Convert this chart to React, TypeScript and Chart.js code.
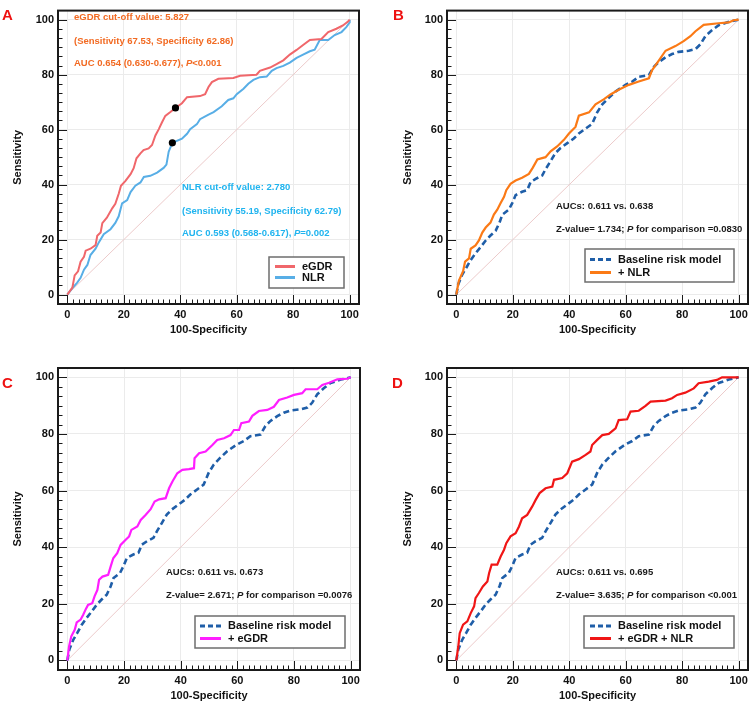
import React, { useEffect, useRef } from "react";
import { Chart, registerables } from "chart.js";
Chart.register(...registerables);

const FONT = '"Liberation Sans", Arial, Helvetica, sans-serif';

// ---- axis ticks ----
const X_TICKS = [0, 20, 40, 60, 80, 100];
const Y_TICKS = [0, 20, 40, 60, 80, 100];

// ---- Panel A: eGDR alone ----
const egdrFpr = [0,1.8,2.6,3.8,4.7,5.9,6.5,8.2,10,10.6,11.8,12.4,14,15.9,17,18.2,19,20.6,22.4,23.5,24.5,25.9,27,28.8,30,31.2,32.4,33.5,34.7,36.5,38.3,40.6,42.4,47,48.8,50,51.2,53.5,58.8,61.2,67,68.2,71.8,74.1,76.5,78.8,81.2,83.5,85.9,90,92.4,95.3,97.6,99.4,100];
const egdrSens = [0,2.6,7,8.5,12,13.8,16,16.7,18,21.4,22.6,26,28,31.4,33,36.7,39.6,41.4,43.8,46,49.6,51.4,52.6,53.2,54.4,57.9,60.2,62.6,65,66.4,67.9,69.6,71.8,72.2,72.9,75.5,77.3,78.5,78.8,79.6,80,81.4,82.6,83.8,85.2,87.3,89,90.8,92.6,93,95.5,96.7,97.9,99.3,100];

// ---- Panel A: NLR alone ----
const nlrFpr = [0,1.8,3.5,4.7,5.9,7.1,8.2,10,11.2,12.9,15.3,17,18.2,19.4,21.2,22.4,24.1,25.9,27.1,29.4,31.8,34.1,35.1,35.9,37.2,40.6,42.4,43.5,45.9,47,50,51.8,54.7,57,58.8,60,62.4,64.1,65.9,68.2,70.6,72.4,74.1,76.5,78.8,81.2,83.5,85.9,87.6,89.4,92.4,94.7,97.1,98.8,100,100];
const nlrSens = [0,2.4,4.4,6.1,9.1,10.8,14.4,16.7,19.1,22,23.8,26.1,28.5,33.2,34.4,37.3,39.6,40.8,42.8,43.2,44.4,46.1,47.3,52,55.2,56.7,58.5,60.2,62,63.8,65.5,66.4,68.5,70.8,71.4,72.9,74.9,76.7,78.1,79.1,79.3,81.4,82.4,83.2,84.4,86.1,87.3,88.5,89.1,92.6,92.6,94.4,95.5,97.3,99,100];

// ---- cut-off points (100-Specificity, Sensitivity) ----
const egdrCutFpr = [38.3];
const egdrCutSens = [67.9];
const nlrCutFpr = [37.2];
const nlrCutSens = [55.2];

// ---- Baseline risk model (panels B, C, D) ----
const baseFpr = [0,0.7,2.1,3.5,5.1,6.8,8.6,10.4,12.1,13.9,15.3,16.3,18.6,19.8,21,23.3,25.1,26.3,28.1,30.4,31.6,33.4,35.1,36.9,39.3,41.6,43.4,45.8,48.1,49.9,51.7,54,56.4,59.9,62.3,64.6,68.2,69.9,71.7,74.1,76.4,78.8,82.3,84.7,86.4,88.2,90.6,92.9,96.5,100];
const baseSens = [0,3.8,7.3,9.7,12.6,15,17.3,19.7,21.5,23.2,26.2,29.1,30.9,33.3,36.2,37.4,38,40.9,42.1,43.3,45.6,48.6,51.5,53.3,55.1,56.8,58.6,60.4,62.1,66.3,69.2,71.6,73.9,76.3,77.5,79.2,79.8,82.8,84.6,86.3,87.5,88.3,88.7,89.3,91,94,96.2,98,99.2,100];

// ---- + NLR (panel B) ----
const plusNlrFpr = [0,0.9,2.4,3.1,4.5,5.1,6.8,8,9.2,10.4,12.1,13.3,14.5,15.7,16.9,17.7,19.2,21,23.3,25.7,27.1,28.7,31.6,33.4,35.7,38.1,39.9,42.2,43.4,47,49.3,52.2,54.6,57.5,61.1,64.6,68.2,69.3,71.7,74.1,77.6,80.5,82.9,84.7,87.6,92.9,96.5,98.2,100];
const plusNlrSens = [0,5,8.5,12,13.2,16.7,17.9,19.7,22.6,24.4,26.2,29.1,30.9,33.3,35.6,38,40.3,41.5,42.5,43.9,46.2,49.2,50,52.1,53.9,56.3,58.6,61,65.1,66.3,69.2,71,72.8,74.5,76.3,77.5,78.7,81.6,85.1,88.7,90.4,92.2,94,95.8,98.1,98.7,99,99.8,100];

// ---- + eGDR (panel C) ----
const plusEgdrFpr = [0,0.6,1.4,2.6,3.3,4.7,5.6,6.5,7.3,8.8,9.6,10.6,11.2,12.4,14.4,15.3,16.2,17.6,18.8,20.6,21.8,22.6,24.7,25.9,27.6,29.4,30.8,32.4,34.7,35.9,37.1,38.8,40.6,42.9,44.7,44.9,46.5,48.8,51.2,52.9,55.3,57.6,58.8,60.6,61.4,64.1,65.3,67.6,70.6,72.9,74.7,77.6,80,82.9,84.1,88.2,90,92.4,95.3,98.8,100];
const plusEgdrSens = [0,4.9,8.5,10.8,13.4,14.4,16.1,18.1,19.6,20.2,22.6,24.9,28.5,29.6,30.2,33.2,36.1,37.9,40.8,42.6,43.8,46.1,47.3,49.6,51.4,53.4,56.1,56.9,57.3,60.8,63.2,66.1,67.3,67.6,67.9,71.4,73.2,73.8,76.1,77.9,78.5,79.6,81.4,81.4,83.8,84.4,86.4,88.1,88.5,89.6,92,92.9,93.8,94.4,95.8,95.8,97.3,98.1,99.3,99.5,100];

// ---- + eGDR + NLR (panel D) ----
const plusBothFpr = [0,0.7,1.2,2.4,3.9,5.1,6.3,6.8,8,9.4,11,11.6,12.5,14.5,15.7,16.9,17.7,19.2,21,22.2,23.3,25.1,26.9,28.1,29.5,31.6,34,34.6,37.5,39.3,41,43.4,45.8,47.5,48.1,49.9,51.7,54,56.4,57.5,60.5,61.7,64.6,67,68.8,74.1,76.4,78.2,81.1,84.1,85.8,89.4,92.3,94.1,100];
const plusBothSens = [0,4.9,9.6,12.6,13.8,16.7,19.1,22,23.8,26.1,27.9,30.8,33.8,33.8,36.7,39.1,41.4,43.8,44.9,47.3,50.2,51.4,54.4,56.7,59.1,60.8,61.4,63.8,64.4,66.1,70.2,71.1,72.6,73.8,76.1,77.9,79.6,80,82,84.9,85.2,87.9,88.2,89.9,91.4,91.8,92.6,93.8,94.6,96.1,97.9,98.5,99.1,100,100];

// ---- reference diagonal ----
const diagFpr = [0, 100];
const diagSens = [0, 100];

const pts = (xs: number[], ys: number[]) => xs.map((x, i) => ({ x, y: ys[i] }));

type Seg = { t: string; i?: boolean };
type Note = { x: number; y: number; color: string; segs: Seg[] };
type Series = { label: string; fpr: number[]; sens: number[]; color: string; width: number; dash?: number[] };
type Legend = { x: number; y: number; w: number; h: number; s0: number; s1: number; tx: number; rows: number[]; items: Series[] };
type PanelCfg = {
  key: string; left: number; top: number; w: number; h: number;
  area: { l: number; r: number; t: number; b: number };
  letter: string; letterX: number; letterY: number;
  yTitleX: number; xTitleY: number;
  series: Series[]; // drawing order: first = on top
  dots?: { fpr: number[]; sens: number[] }[];
  notes: Note[]; legend: Legend;
};

const C_EGDR = "#f0676b";
const C_NLR = "#58aee6";
const C_BASE = "#1f5ea8";
const C_PNLR = "#fb7a16";
const C_PEGDR = "#ff1eff";
const C_PBOTH = "#f01616";
const T_ORANGE = "#f26a22";
const T_BLUE = "#20b4ef";
const T_BLACK = "#1a1a1a";

const sBase: Series = { label: "Baseline risk model", fpr: baseFpr, sens: baseSens, color: C_BASE, width: 2.6, dash: [6, 3.5] };
const sEgdr: Series = { label: "eGDR", fpr: egdrFpr, sens: egdrSens, color: C_EGDR, width: 2 };
const sNlr: Series = { label: "NLR", fpr: nlrFpr, sens: nlrSens, color: C_NLR, width: 2 };
const sPNlr: Series = { label: "+ NLR", fpr: plusNlrFpr, sens: plusNlrSens, color: C_PNLR, width: 2.2 };
const sPEgdr: Series = { label: "+ eGDR", fpr: plusEgdrFpr, sens: plusEgdrSens, color: C_PEGDR, width: 2.2 };
const sPBoth: Series = { label: "+ eGDR + NLR", fpr: plusBothFpr, sens: plusBothSens, color: C_PBOTH, width: 2.2 };

const PANELS: PanelCfg[] = [
  {
    key: "A", left: 0, top: 0, w: 376, h: 340,
    area: { l: 58, r: 359, t: 2, b: 304 },
    letter: "A", letterX: 2, letterY: 19.5, yTitleX: 18, xTitleY: 330,
    series: [sEgdr, sNlr],
    dots: [{ fpr: egdrCutFpr, sens: egdrCutSens }, { fpr: nlrCutFpr, sens: nlrCutSens }],
    notes: [
      { x: 74, y: 17, color: T_ORANGE, segs: [{ t: "eGDR cut-off value: 5.827" }] },
      { x: 74, y: 41.5, color: T_ORANGE, segs: [{ t: "(Sensitivity 67.53, Specificity 62.86)" }] },
      { x: 74, y: 63.5, color: T_ORANGE, segs: [{ t: "AUC 0.654 (0.630-0.677), " }, { t: "P", i: true }, { t: "<0.001" }] },
      { x: 182, y: 187, color: T_BLUE, segs: [{ t: "NLR cut-off value: 2.780" }] },
      { x: 182, y: 211, color: T_BLUE, segs: [{ t: "(Sensitivity 55.19, Specificity 62.79)" }] },
      { x: 182, y: 233, color: T_BLUE, segs: [{ t: "AUC 0.593 (0.568-0.617), " }, { t: "P", i: true }, { t: "=0.002" }] },
    ],
    legend: { x: 269, y: 257, w: 75, h: 31, s0: 275, s1: 295, tx: 302, rows: [266.5, 277.5], items: [sEgdr, sNlr] },
  },
  {
    key: "B", left: 376, top: 0, w: 376, h: 340,
    area: { l: 71, r: 372, t: 2, b: 304 },
    letter: "B", letterX: 17, letterY: 19.5, yTitleX: 32, xTitleY: 330,
    series: [sPNlr, sBase],
    notes: [
      { x: 180, y: 206, color: T_BLACK, segs: [{ t: "AUCs: 0.611 vs. 0.638" }] },
      { x: 180, y: 229, color: T_BLACK, segs: [{ t: "Z-value= 1.734; " }, { t: "P", i: true }, { t: " for comparison =0.0830" }] },
    ],
    legend: { x: 209, y: 249, w: 149, h: 33, s0: 214, s1: 235, tx: 242, rows: [259.5, 272.5], items: [sBase, sPNlr] },
  },
  {
    key: "C", left: 0, top: 340, w: 376, h: 363,
    area: { l: 58, r: 360, t: 28, b: 330 },
    letter: "C", letterX: 2, letterY: 47.5, yTitleX: 18, xTitleY: 356,
    series: [sPEgdr, sBase],
    notes: [
      { x: 166, y: 232, color: T_BLACK, segs: [{ t: "AUCs: 0.611 vs. 0.673" }] },
      { x: 166, y: 255.5, color: T_BLACK, segs: [{ t: "Z-value= 2.671; " }, { t: "P", i: true }, { t: " for comparison =0.0076" }] },
    ],
    legend: { x: 195, y: 276, w: 150, h: 32, s0: 200, s1: 221, tx: 228, rows: [286, 298.5], items: [sBase, sPEgdr] },
  },
  {
    key: "D", left: 376, top: 340, w: 376, h: 363,
    area: { l: 71, r: 372, t: 28, b: 330 },
    letter: "D", letterX: 16, letterY: 47.5, yTitleX: 32, xTitleY: 356,
    series: [sPBoth, sBase],
    notes: [
      { x: 180, y: 232, color: T_BLACK, segs: [{ t: "AUCs: 0.611 vs. 0.695" }] },
      { x: 180, y: 255.5, color: T_BLACK, segs: [{ t: "Z-value= 3.635; " }, { t: "P", i: true }, { t: " for comparison <0.001" }] },
    ],
    legend: { x: 208, y: 276, w: 150, h: 32, s0: 214, s1: 235, tx: 242, rows: [286, 298.5], items: [sBase, sPBoth] },
  },
];

function drawRich(ctx: CanvasRenderingContext2D, x: number, y: number, segs: Seg[], color: string, size: number) {
  ctx.fillStyle = color;
  ctx.textBaseline = "middle";
  ctx.textAlign = "left";
  let cx = x;
  for (const s of segs) {
    ctx.font = `${s.i ? "italic " : ""}bold ${size}px ${FONT}`;
    ctx.fillText(s.t, cx, y);
    cx += ctx.measureText(s.t).width;
  }
}

function makeDeco(cfg: PanelCfg) {
  return {
    id: "deco" + cfg.key,
    beforeDatasetsDraw(chart: any) {
      const { ctx, chartArea: a, scales } = chart;
      const x = scales.x, y = scales.y;
      ctx.save();
      ctx.strokeStyle = "#1a1a1a";
      ctx.lineWidth = 1;
      ctx.beginPath();
      // x ticks (inward, from bottom)
      for (let i = 0; i <= 50; i++) {
        const v = i * 2;
        const px = Math.round(x.getPixelForValue(v)) + 0.5;
        const len = v % 20 === 0 ? 9 : 4.5;
        ctx.moveTo(px, a.bottom);
        ctx.lineTo(px, a.bottom - len);
      }
      // y ticks (inward, from left)
      for (let i = 0; i <= 30; i++) {
        const v = (i * 10) / 3;
        const py = Math.round(y.getPixelForValue(v)) + 0.5;
        const len = i % 6 === 0 ? 9 : 4.5;
        ctx.moveTo(a.left, py);
        ctx.lineTo(a.left + len, py);
      }
      ctx.stroke();
      ctx.restore();
    },
    afterDraw(chart: any) {
      const { ctx, chartArea: a } = chart;
      ctx.save();
      // frame
      ctx.strokeStyle = "#1a1a1a";
      ctx.lineWidth = 2;
      ctx.strokeRect(a.left, a.top, a.right - a.left, a.bottom - a.top);
      // axis titles
      ctx.fillStyle = "#111";
      ctx.font = `bold 11px ${FONT}`;
      ctx.textAlign = "center";
      ctx.textBaseline = "middle";
      ctx.fillText("100-Specificity", (a.left + a.right) / 2, cfg.xTitleY);
      ctx.save();
      ctx.translate(cfg.yTitleX, (a.top + a.bottom) / 2);
      ctx.rotate(-Math.PI / 2);
      ctx.fillText("Sensitivity", 0, 0);
      ctx.restore();
      // panel letter
      ctx.fillStyle = "#ee1111";
      ctx.font = `bold 15px ${FONT}`;
      ctx.textAlign = "left";
      ctx.textBaseline = "alphabetic";
      ctx.fillText(cfg.letter, cfg.letterX, cfg.letterY);
      // notes
      for (const n of cfg.notes) drawRich(ctx, n.x, n.y, n.segs, n.color, 9.5);
      // legend
      const L = cfg.legend;
      ctx.fillStyle = "#fff";
      ctx.fillRect(L.x, L.y, L.w, L.h);
      ctx.strokeStyle = "#6e6e6e";
      ctx.lineWidth = 1.5;
      ctx.strokeRect(L.x, L.y, L.w, L.h);
      L.items.forEach((s, i) => {
        const ry = L.rows[i];
        ctx.strokeStyle = s.color;
        ctx.lineWidth = 3;
        ctx.setLineDash(s.dash ? [5, 3] : []);
        ctx.beginPath();
        ctx.moveTo(L.s0, ry);
        ctx.lineTo(L.s1, ry);
        ctx.stroke();
        ctx.setLineDash([]);
        ctx.fillStyle = "#111";
        ctx.font = `bold 11px ${FONT}`;
        ctx.textAlign = "left";
        ctx.textBaseline = "middle";
        ctx.fillText(s.label, L.tx, ry);
      });
      ctx.restore();
    },
  };
}

function Panel({ cfg }: { cfg: PanelCfg }) {
  const ref = useRef<HTMLCanvasElement>(null);
  useEffect(() => {
    if (!ref.current) return;
    const datasets: any[] = [];
    (cfg.dots || []).forEach((d, i) =>
      datasets.push({
        label: "cut-off " + i, data: pts(d.fpr, d.sens), showLine: false,
        pointRadius: 3.6, pointBackgroundColor: "#000", pointBorderWidth: 0, borderColor: "#000",
      })
    );
    cfg.series.forEach((s) =>
      datasets.push({
        label: s.label, data: pts(s.fpr, s.sens), borderColor: s.color, borderWidth: s.width,
        borderDash: s.dash || [], pointRadius: 0, tension: 0, fill: false,
        borderCapStyle: "butt", borderJoinStyle: "miter",
      })
    );
    datasets.push({
      label: "reference", data: pts(diagFpr, diagSens), borderColor: "#eccaca", borderWidth: 1,
      pointRadius: 0, fill: false,
    });
    const { area, w, h } = cfg;
    const tickFont = { family: FONT, size: 11, weight: "bold" as const };
    const chart = new Chart(ref.current, {
      type: "line",
      data: { datasets },
      options: {
        responsive: false,
        animation: false,
        devicePixelRatio: 1,
        events: [],
        layout: { padding: { left: 0, top: area.t, right: w - area.r, bottom: 0 } },
        plugins: { legend: { display: false }, tooltip: { enabled: false }, title: { display: false } },
        scales: {
          x: {
            type: "linear", min: -3.3, max: 103.3,
            afterBuildTicks: (s: any) => { s.ticks = X_TICKS.map((v) => ({ value: v })); },
            afterFit: (s: any) => { s.height = h - area.b; },
            grid: { color: "#ebebeb", lineWidth: 1, drawTicks: false },
            border: { display: false },
            ticks: { font: tickFont, color: "#111", padding: 4, maxRotation: 0, autoSkip: false },
          },
          y: {
            type: "linear", min: -3.4, max: 103.3,
            afterBuildTicks: (s: any) => { s.ticks = Y_TICKS.map((v) => ({ value: v })); },
            afterFit: (s: any) => { s.width = area.l; },
            grid: { color: "#ebebeb", lineWidth: 1, drawTicks: false },
            border: { display: false },
            ticks: { font: tickFont, color: "#111", padding: 4, autoSkip: false },
          },
        },
      },
      plugins: [makeDeco(cfg)],
    } as any);
    return () => chart.destroy();
  }, [cfg]);
  return (
    <canvas
      ref={ref}
      width={cfg.w}
      height={cfg.h}
      style={{ position: "absolute", left: cfg.left, top: cfg.top, width: cfg.w, height: cfg.h }}
    />
  );
}

export default function App() {
  return (
    <div style={{ position: "absolute", left: 0, top: 0, width: 752, height: 703, background: "#fff", overflow: "hidden" }}>
      {PANELS.map((p) => (
        <Panel key={p.key} cfg={p} />
      ))}
    </div>
  );
}
